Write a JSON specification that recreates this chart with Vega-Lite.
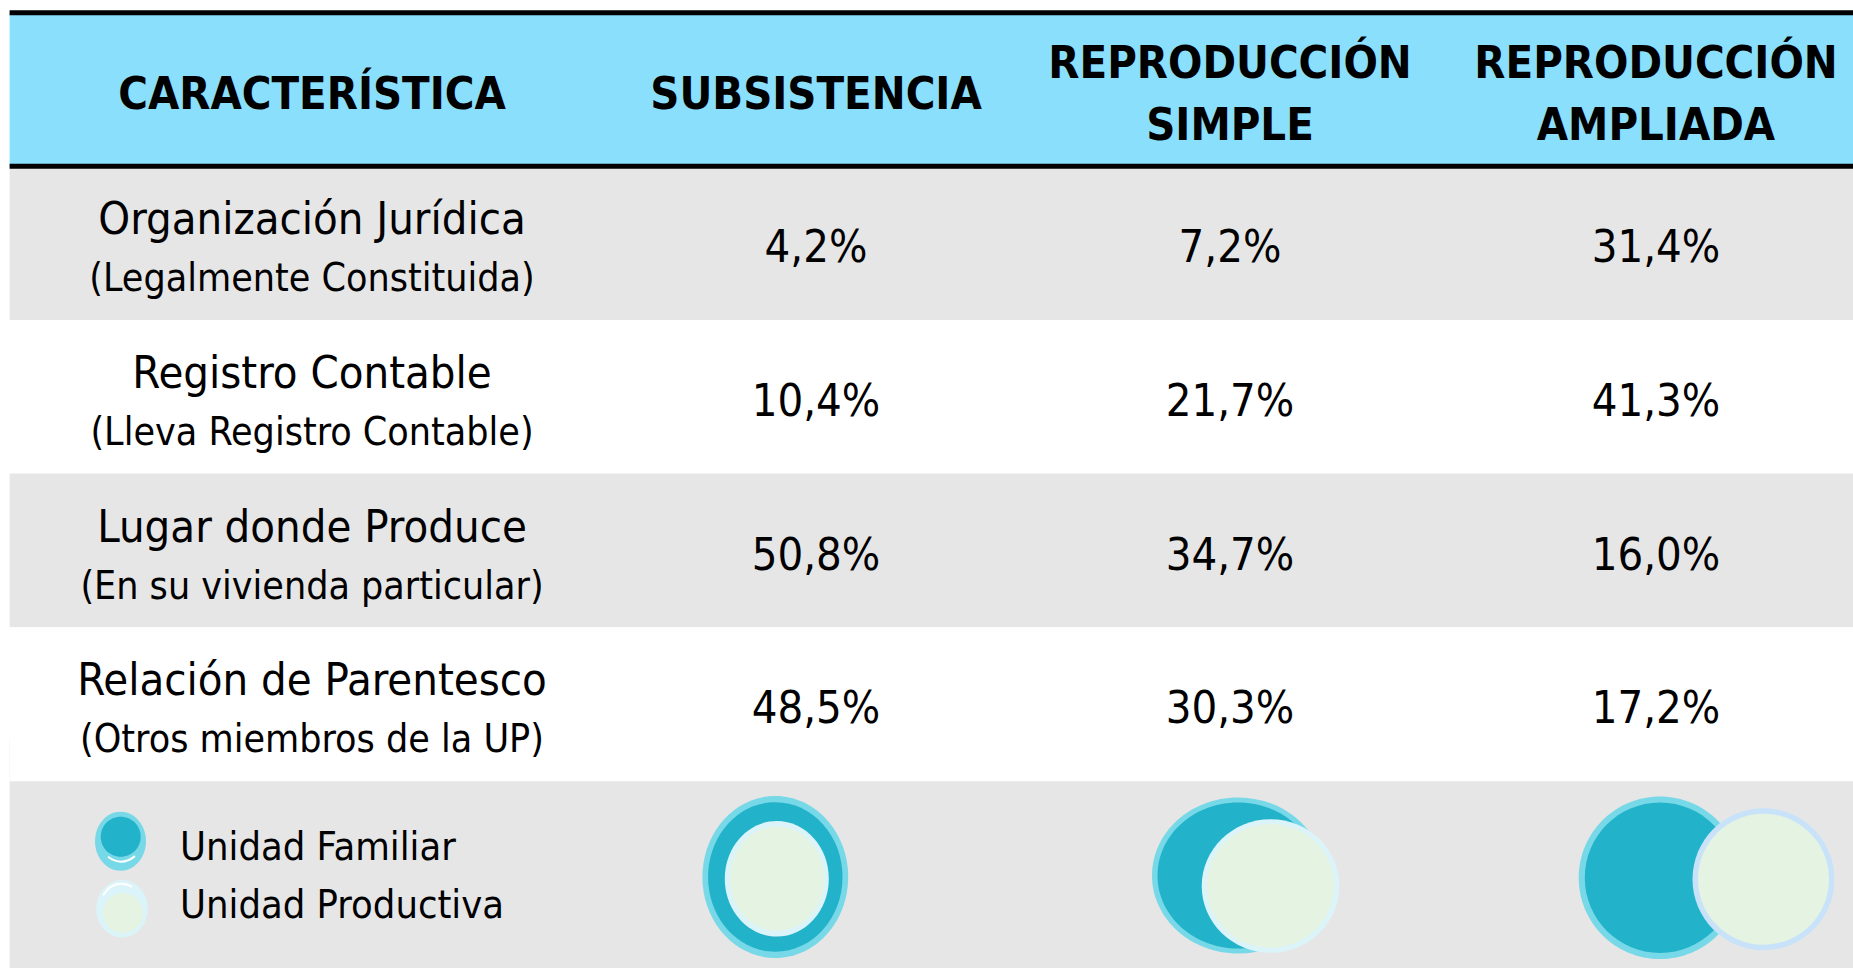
{
  "$schema": "https://vega.github.io/schema/vega-lite/v6.json",
  "width": 1853,
  "height": 968,
  "padding": 0,
  "autosize": {"type": "none"},
  "background": "#ffffff",
  "config": {
    "view": {"stroke": null},
    "axis": {"disable": true},
    "text": {"font": "DejaVu Sans Condensed, Liberation Sans, sans-serif", "color": "#000000"}
  },
  "datasets": {
    "encabezados": [
      {"c": 0, "r": 0, "titulo": "CARACTERÍSTICA"},
      {"c": 1, "r": 0, "titulo": "SUBSISTENCIA"},
      {"c": 2, "r": 0, "titulo": "REPRODUCCIÓN\nSIMPLE"},
      {"c": 3, "r": 0, "titulo": "REPRODUCCIÓN\nAMPLIADA"}
    ],
    "filas": [
      {"r": 1, "caracteristica": "Organización Jurídica", "detalle": "(Legalmente Constituida)"},
      {"r": 2, "caracteristica": "Registro Contable", "detalle": "(Lleva Registro Contable)"},
      {"r": 3, "caracteristica": "Lugar donde Produce", "detalle": "(En su vivienda particular)"},
      {"r": 4, "caracteristica": "Relación de Parentesco", "detalle": "(Otros miembros de la UP)"}
    ],
    "valores": [
      {"r": 1, "c": 1, "valor": "4,2%"},
      {"r": 1, "c": 2, "valor": "7,2%"},
      {"r": 1, "c": 3, "valor": "31,4%"},
      {"r": 2, "c": 1, "valor": "10,4%"},
      {"r": 2, "c": 2, "valor": "21,7%"},
      {"r": 2, "c": 3, "valor": "41,3%"},
      {"r": 3, "c": 1, "valor": "50,8%"},
      {"r": 3, "c": 2, "valor": "34,7%"},
      {"r": 3, "c": 3, "valor": "16,0%"},
      {"r": 4, "c": 1, "valor": "48,5%"},
      {"r": 4, "c": 2, "valor": "30,3%"},
      {"r": 4, "c": 3, "valor": "17,2%"}
    ],
    "diagramas": [
      {"c": 0, "r": 5, "tipo": "LEYENDA"},
      {"c": 1, "r": 5, "tipo": "SUBSISTENCIA"},
      {"c": 2, "r": 5, "tipo": "REPRODUCCIÓN SIMPLE"},
      {"c": 3, "r": 5, "tipo": "REPRODUCCIÓN AMPLIADA"}
    ],
    "leyenda": [
      {"c": 0, "r": 5, "texto": "Unidad Familiar\nUnidad Productiva"}
    ],
    "lineas": [
      {"r": -0.5},
      {"r": 0.5}
    ]
  },
  "layer": [
    {
      "data": {"name": "diagramas"},
      "transform": [{"filter": "datum.c === 0"}],
      "mark": {"type": "rule", "stroke": "#e6e6e6", "strokeWidth": 240, "strokeCap": "butt"},
      "encoding": {
        "x": {"datum": -0.6, "type": "quantitative", "scale": {"domain": [0, 1, 2, 3], "range": [312, 816, 1230, 1656], "zero": false, "nice": false}},
        "x2": {"datum": 3.5},
        "y": {"field": "r", "type": "quantitative", "scale": {"domain": [0, 5], "range": [89.5, 858], "zero": false, "nice": false}}
      }
    },
    {
      "data": {"name": "filas"},
      "mark": {"type": "rule", "strokeWidth": 154, "strokeCap": "butt"},
      "encoding": {
        "x": {"datum": -0.6, "type": "quantitative"},
        "x2": {"datum": 3.5},
        "y": {"field": "r", "type": "quantitative"},
        "stroke": {"condition": {"test": "datum.r % 2 === 1", "value": "#e6e6e6"}, "value": "#ffffff"}
      }
    },
    {
      "data": {"name": "encabezados"},
      "transform": [{"filter": "datum.c === 0"}],
      "mark": {"type": "rule", "stroke": "#8adffd", "strokeWidth": 154, "strokeCap": "butt"},
      "encoding": {
        "x": {"datum": -0.6, "type": "quantitative"},
        "x2": {"datum": 3.5},
        "y": {"field": "r", "type": "quantitative"}
      }
    },
    {
      "data": {"name": "lineas"},
      "mark": {"type": "rule", "stroke": "#000000", "strokeWidth": 5, "strokeCap": "butt"},
      "encoding": {
        "x": {"datum": -0.6, "type": "quantitative"},
        "x2": {"datum": 3.5},
        "y": {"field": "r", "type": "quantitative"}
      }
    },
    {
      "data": {"name": "encabezados"},
      "transform": [{"filter": "datum.c <= 1"}],
      "mark": {"type": "text", "fontSize": 45, "fontWeight": "bold", "align": "center", "baseline": "middle", "dy": 5},
      "encoding": {
        "x": {"field": "c", "type": "quantitative"},
        "y": {"field": "r", "type": "quantitative"},
        "text": {"field": "titulo", "type": "nominal"}
      }
    },
    {
      "data": {"name": "encabezados"},
      "transform": [{"filter": "datum.c >= 2"}],
      "mark": {"type": "text", "fontSize": 45, "fontWeight": "bold", "align": "center", "baseline": "middle", "lineBreak": "\n", "lineHeight": 62, "dy": -26},
      "encoding": {
        "x": {"field": "c", "type": "quantitative"},
        "y": {"field": "r", "type": "quantitative"},
        "text": {"field": "titulo", "type": "nominal"}
      }
    },
    {
      "data": {"name": "filas"},
      "mark": {"type": "text", "fontSize": 45, "align": "center", "baseline": "middle", "dy": -23},
      "encoding": {
        "x": {"datum": 0, "type": "quantitative"},
        "y": {"field": "r", "type": "quantitative"},
        "text": {"field": "caracteristica", "type": "nominal"}
      }
    },
    {
      "data": {"name": "filas"},
      "mark": {"type": "text", "fontSize": 39, "align": "center", "baseline": "middle", "dy": 36},
      "encoding": {
        "x": {"datum": 0, "type": "quantitative"},
        "y": {"field": "r", "type": "quantitative"},
        "text": {"field": "detalle", "type": "nominal"}
      }
    },
    {
      "data": {"name": "valores"},
      "mark": {"type": "text", "fontSize": 45, "align": "center", "baseline": "middle", "dy": 5},
      "encoding": {
        "x": {"field": "c", "type": "quantitative"},
        "y": {"field": "r", "type": "quantitative"},
        "text": {"field": "valor", "type": "nominal"}
      }
    },
    {
      "data": {"name": "leyenda"},
      "mark": {"type": "text", "fontSize": 39.5, "align": "left", "baseline": "middle", "lineBreak": "\n", "lineHeight": 58, "dx": -132, "dy": -10},
      "encoding": {
        "x": {"field": "c", "type": "quantitative"},
        "y": {"field": "r", "type": "quantitative"},
        "text": {"field": "texto", "type": "nominal"}
      }
    },
    {
      "data": {"name": "diagramas"},
      "transform": [{"filter": "datum.tipo === 'SUBSISTENCIA'"}],
      "layer": [
        {"mark": {"type": "point", "filled": true, "opacity": 1, "strokeWidth": 0, "fill": "#77d8e8", "shape": "M0.9,0C0.9,0.5523,0.4971,1,0,1C-0.4971,1,-0.9,0.5523,-0.9,0C-0.9,-0.5523,-0.4971,-1,0,-1C0.4971,-1,0.9,-0.5523,0.9,0Z", "size": 26244, "xOffset": -40.7, "yOffset": 19},
         "encoding": {"x": {"field": "c", "type": "quantitative"}, "y": {"field": "r", "type": "quantitative"}}},
        {"mark": {"type": "point", "filled": true, "opacity": 1, "strokeWidth": 0, "fill": "#22b2c9", "shape": "M0.9,0C0.9,0.5523,0.4971,1,0,1C-0.4971,1,-0.9,0.5523,-0.9,0C-0.9,-0.5523,-0.4971,-1,0,-1C0.4971,-1,0.9,-0.5523,0.9,0Z", "size": 22320, "xOffset": -40.7, "yOffset": 19},
         "encoding": {"x": {"field": "c", "type": "quantitative"}, "y": {"field": "r", "type": "quantitative"}}},
        {"mark": {"type": "point", "filled": true, "opacity": 1, "strokeWidth": 0, "fill": "#dbf4f9", "shape": "M0.9,0C0.9,0.5523,0.4971,1,0,1C-0.4971,1,-0.9,0.5523,-0.9,0C-0.9,-0.5523,-0.4971,-1,0,-1C0.4971,-1,0.9,-0.5523,0.9,0Z", "size": 13363, "xOffset": -39.2, "yOffset": 20.8},
         "encoding": {"x": {"field": "c", "type": "quantitative"}, "y": {"field": "r", "type": "quantitative"}}},
        {"mark": {"type": "point", "filled": true, "opacity": 1, "strokeWidth": 0, "fill": "#e5f3e2", "shape": "M0.9,0C0.9,0.5523,0.4971,1,0,1C-0.4971,1,-0.9,0.5523,-0.9,0C-0.9,-0.5523,-0.4971,-1,0,-1C0.4971,-1,0.9,-0.5523,0.9,0Z", "size": 10899, "xOffset": -39, "yOffset": 20.8},
         "encoding": {"x": {"field": "c", "type": "quantitative"}, "y": {"field": "r", "type": "quantitative"}}}
      ]
    },
    {
      "data": {"name": "diagramas"},
      "transform": [{"filter": "datum.tipo === 'REPRODUCCIÓN SIMPLE'"}],
      "layer": [
        {"mark": {"type": "point", "filled": true, "opacity": 1, "strokeWidth": 0, "fill": "#77d8e8", "shape": "M1,0C1,0.5009,0.5523,0.907,0,0.907C-0.5523,0.907,-1,0.5009,-1,0C-1,-0.5009,-0.5523,-0.907,0,-0.907C0.5523,-0.907,1,-0.5009,1,0Z", "size": 29584, "xOffset": 8, "yOffset": 17.5},
         "encoding": {"x": {"field": "c", "type": "quantitative"}, "y": {"field": "r", "type": "quantitative"}}},
        {"mark": {"type": "point", "filled": true, "opacity": 1, "strokeWidth": 0, "fill": "#22b2c9", "shape": "M1,0C1,0.5009,0.5523,0.907,0,0.907C-0.5523,0.907,-1,0.5009,-1,0C-1,-0.5009,-0.5523,-0.907,0,-0.907C0.5523,-0.907,1,-0.5009,1,0Z", "size": 25921, "xOffset": 8, "yOffset": 17.5},
         "encoding": {"x": {"field": "c", "type": "quantitative"}, "y": {"field": "r", "type": "quantitative"}}},
        {"mark": {"type": "point", "filled": true, "opacity": 1, "strokeWidth": 0, "fill": "#dbf4f9", "shape": "M1,0C1,0.5357,0.5523,0.97,0,0.97C-0.5523,0.97,-1,0.5357,-1,0C-1,-0.5357,-0.5523,-0.97,0,-0.97C0.5523,-0.97,1,-0.5357,1,0Z", "size": 18934, "xOffset": 40.5, "yOffset": 28},
         "encoding": {"x": {"field": "c", "type": "quantitative"}, "y": {"field": "r", "type": "quantitative"}}},
        {"mark": {"type": "point", "filled": true, "opacity": 1, "strokeWidth": 0, "fill": "#e5f3e2", "shape": "M1,0C1,0.5357,0.5523,0.97,0,0.97C-0.5523,0.97,-1,0.5357,-1,0C-1,-0.5357,-0.5523,-0.97,0,-0.97C0.5523,-0.97,1,-0.5357,1,0Z", "size": 16282, "xOffset": 40.5, "yOffset": 28},
         "encoding": {"x": {"field": "c", "type": "quantitative"}, "y": {"field": "r", "type": "quantitative"}}}
      ]
    },
    {
      "data": {"name": "diagramas"},
      "transform": [{"filter": "datum.tipo === 'REPRODUCCIÓN AMPLIADA'"}],
      "layer": [
        {"mark": {"type": "point", "filled": true, "opacity": 1, "strokeWidth": 0, "fill": "#77d8e8", "shape": "M1,0C1,0.5523,0.5523,1,0,1C-0.5523,1,-1,0.5523,-1,0C-1,-0.5523,-0.5523,-1,0,-1C0.5523,-1,1,-0.5523,1,0Z", "size": 26439, "xOffset": 4, "yOffset": 19.7},
         "encoding": {"x": {"field": "c", "type": "quantitative"}, "y": {"field": "r", "type": "quantitative"}}},
        {"mark": {"type": "point", "filled": true, "opacity": 1, "strokeWidth": 0, "fill": "#22b2c9", "shape": "M1,0C1,0.5523,0.5523,1,0,1C-0.5523,1,-1,0.5523,-1,0C-1,-0.5523,-0.5523,-1,0,-1C0.5523,-1,1,-0.5523,1,0Z", "size": 22620, "xOffset": 4, "yOffset": 19.7},
         "encoding": {"x": {"field": "c", "type": "quantitative"}, "y": {"field": "r", "type": "quantitative"}}},
        {"mark": {"type": "point", "filled": true, "opacity": 1, "strokeWidth": 0, "fill": "#c8e3f9", "shape": "M1,0C1,0.5523,0.5523,1,0,1C-0.5523,1,-1,0.5523,-1,0C-1,-0.5523,-0.5523,-1,0,-1C0.5523,-1,1,-0.5523,1,0Z", "size": 20164, "xOffset": 107.5, "yOffset": 21.2},
         "encoding": {"x": {"field": "c", "type": "quantitative"}, "y": {"field": "r", "type": "quantitative"}}},
        {"mark": {"type": "point", "filled": true, "opacity": 1, "strokeWidth": 0, "fill": "#e5f3e2", "shape": "M1,0C1,0.5523,0.5523,1,0,1C-0.5523,1,-1,0.5523,-1,0C-1,-0.5523,-0.5523,-1,0,-1C0.5523,-1,1,-0.5523,1,0Z", "size": 17161, "xOffset": 107.5, "yOffset": 21.2},
         "encoding": {"x": {"field": "c", "type": "quantitative"}, "y": {"field": "r", "type": "quantitative"}}}
      ]
    },
    {
      "data": {"name": "diagramas"},
      "transform": [{"filter": "datum.tipo === 'LEYENDA'"}],
      "layer": [
        {"mark": {"type": "point", "filled": true, "opacity": 1, "strokeWidth": 0, "fill": "#77d8e8", "shape": "M0.864,0C0.864,0.5523,0.4772,1,0,1C-0.4772,1,-0.864,0.5523,-0.864,0C-0.864,-0.5523,-0.4772,-1,0,-1C0.4772,-1,0.864,-0.5523,0.864,0Z", "size": 3481, "xOffset": -191.5, "yOffset": -16.8},
         "encoding": {"x": {"field": "c", "type": "quantitative"}, "y": {"field": "r", "type": "quantitative"}}},
        {"mark": {"type": "point", "filled": true, "opacity": 1, "strokeWidth": 0, "fill": "#22b2c9", "shape": "M1,0C1,0.5523,0.5523,1,0,1C-0.5523,1,-1,0.5523,-1,0C-1,-0.5523,-0.5523,-1,0,-1C0.5523,-1,1,-0.5523,1,0Z", "size": 1600, "xOffset": -191.3, "yOffset": -21.3},
         "encoding": {"x": {"field": "c", "type": "quantitative"}, "y": {"field": "r", "type": "quantitative"}}},
        {"mark": {"type": "point", "filled": false, "opacity": 1, "strokeWidth": 2, "stroke": "#ffffff", "shape": "M-1,-0.2Q0,0.55,1,-0.25", "size": 729, "xOffset": -190.5, "yOffset": 1.5},
         "encoding": {"x": {"field": "c", "type": "quantitative"}, "y": {"field": "r", "type": "quantitative"}}},
        {"mark": {"type": "point", "filled": true, "opacity": 1, "strokeWidth": 0, "fill": "#dbf4f9", "shape": "M0.9,0C0.9,0.5523,0.4971,1,0,1C-0.4971,1,-0.9,0.5523,-0.9,0C-0.9,-0.5523,-0.4971,-1,0,-1C0.4971,-1,0.9,-0.5523,0.9,0Z", "size": 3295, "xOffset": -190, "yOffset": 50.7},
         "encoding": {"x": {"field": "c", "type": "quantitative"}, "y": {"field": "r", "type": "quantitative"}}},
        {"mark": {"type": "point", "filled": true, "opacity": 1, "strokeWidth": 0, "fill": "#e5f3e2", "shape": "M1,0C1,0.5523,0.5523,1,0,1C-0.5523,1,-1,0.5523,-1,0C-1,-0.5523,-0.5523,-1,0,-1C0.5523,-1,1,-0.5523,1,0Z", "size": 1600, "xOffset": -189, "yOffset": 55},
         "encoding": {"x": {"field": "c", "type": "quantitative"}, "y": {"field": "r", "type": "quantitative"}}},
        {"mark": {"type": "point", "filled": false, "opacity": 1, "strokeWidth": 2, "stroke": "#ffffff", "shape": "M-1,0.5Q-0.2,-0.7,1,-0.1", "size": 841, "xOffset": -194.5, "yOffset": 30},
         "encoding": {"x": {"field": "c", "type": "quantitative"}, "y": {"field": "r", "type": "quantitative"}}}
      ]
    }
  ]
}
